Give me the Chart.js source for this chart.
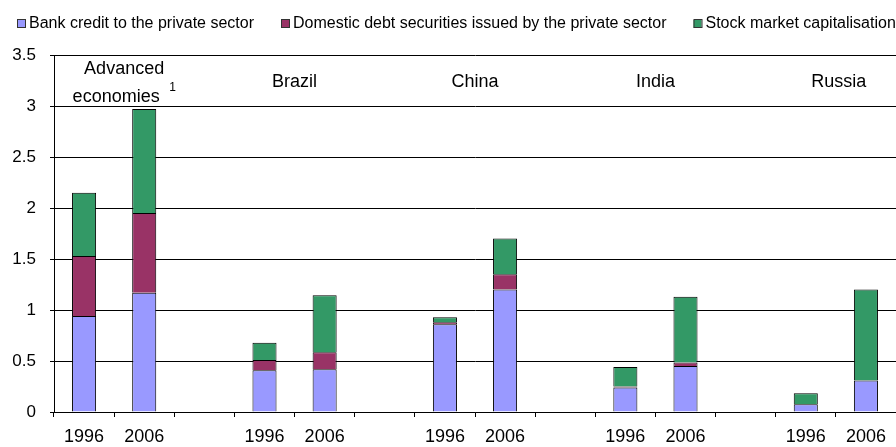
<!DOCTYPE html>
<html>
<head>
<meta charset="utf-8">
<script src="https://cdn.jsdelivr.net/npm/chart.js@4"></script>
<style>
  html, body { margin: 0; padding: 0; background: #fff; }
  #wrap { width: 896px; height: 447px; position: relative; }
</style>
</head>
<body>
<div id="wrap"><canvas id="finChart"></canvas></div>
<script>
// 14 slots: two years per economy, an empty slot between economies
const categories = ['1996', '2006', '', '1996', '2006', '', '1996', '2006', '', '1996', '2006', '', '1996', '2006'];
const groups = ['Advanced economies', 'Brazil', 'China', 'India', 'Russia'];
const bankCredit = [0.94, 1.17, null, 0.41, 0.42, null, 0.86, 1.20, null, 0.24, 0.45, null, 0.075, 0.31];
const debtSecurities = [0.59, 0.78, null, 0.10, 0.165, null, 0.02, 0.15, null, 0.01, 0.035, null, 0, 0];
const stockMarket = [0.62, 1.02, null, 0.17, 0.56, null, 0.05, 0.35, null, 0.19, 0.645, null, 0.11, 0.89];

const FONT = "Arial, 'Liberation Sans', sans-serif";

// legend drawn by hand: the built-in one wraps at this spacing
const legendRow = {
    id: 'legendRow',
    afterDraw(chart) {
        const ctx = chart.ctx;
        let x = 17;
        const y = 24;
        ctx.save();
        ctx.font = '16px ' + FONT;
        ctx.textBaseline = 'middle';
        ctx.textAlign = 'left';
        chart.data.datasets.forEach(ds => {
            ctx.fillStyle = ds.backgroundColor;
            ctx.fillRect(x, y - 4, 8, 8);
            ctx.strokeStyle = '#333';
            ctx.lineWidth = 1;
            ctx.strokeRect(x + 0.5, y - 4.5, 8, 8);
            ctx.fillStyle = '#000';
            ctx.fillText(ds.label, x + 12, y);
            x += 12 + ctx.measureText(ds.label).width + 27;
        });
        ctx.restore();
    }
};

// economy names written at the top of the plot, over each pair of bars
const groupLabels = {
    id: 'groupLabels',
    afterDatasetsDraw(chart) {
        const ctx = chart.ctx;
        const x = chart.scales.x;
        const top = chart.chartArea.top;
        ctx.save();
        ctx.fillStyle = '#000';
        ctx.font = '18px ' + FONT;
        ctx.textAlign = 'center';
        ctx.textBaseline = 'middle';
        groups.forEach((name, g) => {
            const cx = (x.getPixelForValue(g * 3) + x.getPixelForValue(g * 3 + 1)) / 2;
            if (name === 'Advanced economies') {
                ctx.fillText('Advanced', cx + 10, top + 14);
                ctx.fillText('economies', cx + 2, top + 42);
                const w = ctx.measureText('economies').width;
                ctx.font = '12px ' + FONT;
                ctx.fillText('1', cx + 2 + w / 2 + 13, top + 33);
                ctx.font = '18px ' + FONT;
            } else {
                ctx.fillText(name, g === 4 ? cx + 3 : cx, top + 27);
            }
        });
        ctx.restore();
    }
};

new Chart(document.getElementById('finChart'), {
    type: 'bar',
    data: {
        labels: categories,
        datasets: [{
            label: 'Bank credit to the private sector',
            data: bankCredit,
            backgroundColor: '#9999FF'
        }, {
            label: 'Domestic debt securities issued by the private sector',
            data: debtSecurities,
            backgroundColor: '#993366'
        }, {
            label: 'Stock market capitalisation',
            data: stockMarket,
            backgroundColor: '#339966'
        }].map(d => Object.assign(d, {
            borderColor: '#000',
            borderWidth: 1,
            barPercentage: 0.4,
            categoryPercentage: 1
        }))
    },
    options: {
        responsive: true,
        maintainAspectRatio: false,
        animation: false,
        layout: { padding: { top: 55, right: 0, left: 0, bottom: 0 } },
        plugins: {
            legend: { display: false },
            tooltip: { enabled: false }
        },
        scales: {
            x: {
                stacked: true,
                grid: { drawOnChartArea: false, color: '#000', tickLength: 5, offset: true },
                border: { color: '#000' },
                ticks: { color: '#000', font: { family: FONT, size: 18 }, padding: 9, maxRotation: 0, autoSkip: false },
                afterFit: s => { s.height = 35; }
            },
            y: {
                stacked: true,
                min: 0,
                max: 3.5,
                grid: { color: '#000', tickLength: 4 },
                border: { color: '#000' },
                ticks: {
                    stepSize: 0.5,
                    color: '#000',
                    font: { family: FONT, size: 17 },
                    padding: 14,
                    callback: v => String(v)
                },
                afterFit: s => { s.width = 54; }
            }
        }
    },
    plugins: [groupLabels, legendRow]
});
</script>
</body>
</html>
